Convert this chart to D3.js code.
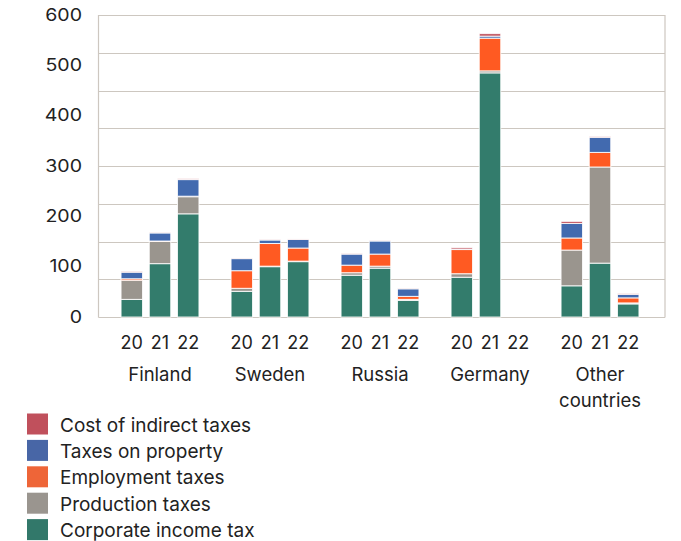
<!DOCTYPE html>
<html>
<head>
<meta charset="utf-8">
<script src="https://cdn.jsdelivr.net/npm/d3@7"></script>
<style>
html,body{margin:0;padding:0;background:#fff;}
svg{display:block;font-family:Inter,"Noto Sans",sans-serif;}
</style>
</head>
<body>
<svg id="chart" width="681" height="541"></svg>
<script>
const countries = ["Finland","Sweden","Russia","Germany","Other countries"];
const years = ["20","21","22"];
const seriesNames = ["Corporate income tax","Production taxes","Employment taxes","Taxes on property","Cost of indirect taxes"];
const seriesColors = ["#337c6c","#9a958e","#ff5a22","#426aaf","#c0505c"];
const legendColors = ["#32786a","#9a958f","#ee6538","#4866a6","#c0505c"];
// values per country, per year [20,21,22]
const corporateIncomeTax = [[35,106,205],[51,100,110],[83,97,33],[79,485,0],[62,107,26]];
const productionTaxes    = [[38,44,34],[6,1,1],[5,4,2],[7,4,0],[71,191,2]];
const employmentTaxes    = [[3,1,1],[35,45,26],[15,24,6],[48,65,0],[24,29,10]];
const taxesOnProperty    = [[13,16,33],[24,7,17],[22,26,15],[1,4,0],[29,30,7]];
const costOfIndirectTaxes= [[2,1,2],[1,1,1],[1,1,1],[3,5,0],[4,2,2]];
const yTicks = [0,100,200,300,400,500,600];
const gridValues = [0,75,150,225,300,375,450,525,600];

const seriesData = [corporateIncomeTax,productionTaxes,employmentTaxes,taxesOnProperty,costOfIndirectTaxes];

const rows = [];
countries.forEach((c,ci)=>{
  years.forEach((y,yi)=>{
    const r = {country:c, year:y};
    seriesNames.forEach((s,si)=>{ r[s] = seriesData[si][ci][yi]; });
    rows.push(r);
  });
});

const svg = d3.select("#chart");
const plotLeft = 98.5, plotRight = 665, plotTop = 15, plotBottom = 317;

const y = d3.scaleLinear().domain([0,600]).range([plotBottom, plotTop]);
const x0 = d3.scaleBand().domain(countries).range([105,655]).padding(0);
const x1 = d3.scaleBand().domain(years).range([0,x0.bandwidth()]).paddingInner(0.238).paddingOuter(0.569);

// grid
svg.append("g").selectAll("line").data(gridValues).join("line")
  .attr("x1",plotLeft).attr("x2",plotRight)
  .attr("y1",d=>Math.round(y(d))+0.5).attr("y2",d=>Math.round(y(d))+0.5)
  .attr("stroke","#cdc7c0").attr("stroke-width",1.2);
svg.append("line").attr("x1",plotLeft).attr("x2",plotLeft).attr("y1",plotTop).attr("y2",plotBottom+0.5)
  .attr("stroke","#cdc7c0").attr("stroke-width",1.2);
svg.append("line").attr("x1",plotRight).attr("x2",plotRight).attr("y1",plotTop).attr("y2",plotBottom+0.5)
  .attr("stroke","#cdc7c0").attr("stroke-width",1.2);

// y labels
svg.append("g").selectAll("text").data(yTicks).join("text")
  .attr("transform",d=>`translate(82,${y(d)+1}) scale(1.15,1)`)
  .attr("text-anchor","end").attr("dominant-baseline","middle")
  .attr("font-size",17).attr("fill","#222")
  .text(d=>d);

// bars
const stack = d3.stack().keys(seriesNames);
const stacked = stack(rows);
const barG = svg.append("g");
stacked.forEach((layer,li)=>{
  barG.append("g").attr("fill",seriesColors[li])
    .selectAll("rect").data(layer.filter(d=>d[1]-d[0]>0)).join("rect")
    .attr("x",d=>x0(d.data.country)+x1(d.data.year))
    .attr("width",x1.bandwidth())
    .attr("y",d=>y(d[1]))
    .attr("height",d=>y(d[0])-y(d[1]))
    .attr("stroke","#fff").attr("stroke-width",1).attr("stroke-opacity",0.85);
});

// year labels
const yearG = svg.append("g");
countries.forEach(c=>{
  years.forEach(yr=>{
    yearG.append("text")
      .attr("x",x0(c)+x1(yr)+x1.bandwidth()/2).attr("y",349)
      .attr("text-anchor","middle").attr("font-size",18).attr("fill","#222")
      .text(yr);
  });
});
// country labels
const catG = svg.append("g");
countries.forEach(c=>{
  const parts = c==="Other countries" ? ["Other","countries"] : [c];
  parts.forEach((p,pi)=>{
    catG.append("text")
      .attr("x",x0(c)+x0.bandwidth()/2).attr("y",380.5+pi*26)
      .attr("text-anchor","middle").attr("font-size",18.5).attr("fill","#222")
      .text(p);
  });
});

// legend (top to bottom: reversed order)
const legendOrder = [4,3,2,1,0];
const lg = svg.append("g");
legendOrder.forEach((si,i)=>{
  const cy = 424 + i*26.4;
  lg.append("rect").attr("x",27).attr("y",cy-10.5).attr("width",21).attr("height",21).attr("fill",legendColors[si]);
  lg.append("text").attr("x",60).attr("y",cy+7.5).attr("font-size",19).attr("fill","#222").text(seriesNames[si]);
});
</script>
</body>
</html>
